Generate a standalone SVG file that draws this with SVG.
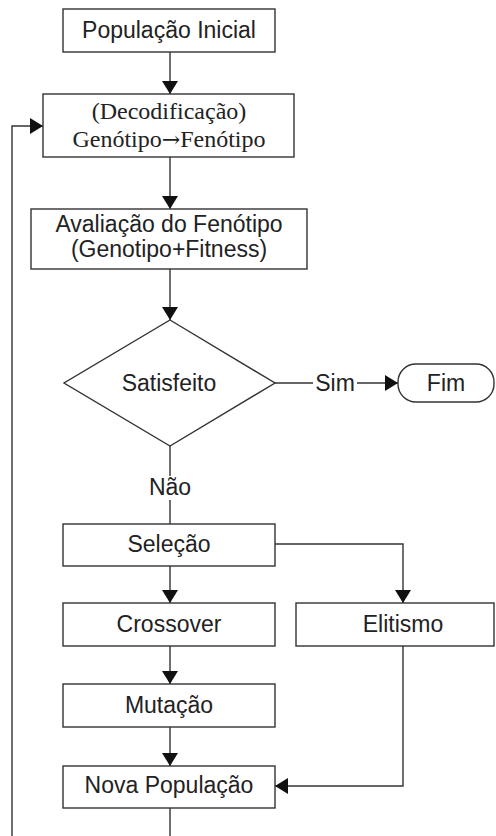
<svg xmlns="http://www.w3.org/2000/svg" width="496" height="836" viewBox="0 0 496 836">
<style>
.box{fill:#fff;stroke:#333;stroke-width:1.4}
.ln{fill:none;stroke:#333;stroke-width:1.4}
.t{font-family:"Liberation Sans",Arial,sans-serif;font-size:23px;fill:#222;text-anchor:middle}
.s{font-family:"Liberation Serif","Times New Roman",serif;font-size:24px;fill:#222;text-anchor:middle}
.arr{font-family:"DejaVu Serif","DejaVu Sans",serif;font-size:22px}
</style>
<defs>
<marker id="ah" viewBox="0 0 13 16" refX="13" refY="8" markerWidth="13" markerHeight="16" markerUnits="userSpaceOnUse" orient="auto">
<path d="M0,0 L13,8 L0,16 z" fill="#111"/>
</marker>
</defs>
<rect width="496" height="836" fill="#fff"/>
<g id="connectors">
<path class="ln" d="M170,52 V94" marker-end="url(#ah)"/>
<path class="ln" d="M170,157 V209" marker-end="url(#ah)"/>
<path class="ln" d="M170,269 V320" marker-end="url(#ah)"/>
<path class="ln" d="M275,383 H313"/>
<path class="ln" d="M357,383 H398" marker-end="url(#ah)"/>
<path class="ln" d="M170,446 V476"/>
<path class="ln" d="M170,500 V524"/>
<path class="ln" d="M170,566 V603" marker-end="url(#ah)"/>
<path class="ln" d="M275,544 H403 V603" marker-end="url(#ah)"/>
<path class="ln" d="M170,646 V684" marker-end="url(#ah)"/>
<path class="ln" d="M170,727 V766" marker-end="url(#ah)"/>
<path class="ln" d="M403,646 V786 H275" marker-end="url(#ah)"/>
<path class="ln" d="M170,808 V836"/>
<path class="ln" d="M12,836 V126 H43" marker-end="url(#ah)"/>
<text class="t" x="335" y="391">Sim</text>
<text class="t" x="170" y="495">Não</text>
</g>
<g id="pop-inicial">
<rect class="box" x="63" y="9" width="212" height="43"/>
<text class="t" x="169" y="38">População Inicial</text>
</g>
<g id="decodificacao">
<rect class="box" x="43" y="94" width="251" height="63"/>
<text class="s" x="169" y="119">(Decodificação)</text>
<text class="s" x="169" y="147">Genótipo<tspan class="arr">→</tspan>Fenótipo</text>
</g>
<g id="avaliacao">
<rect class="box" x="31" y="209" width="276" height="60"/>
<text class="t" x="169" y="232">Avaliação do Fenótipo</text>
<text class="t" x="169" y="257">(Genotipo+Fitness)</text>
</g>
<g id="satisfeito">
<polygon class="box" points="170,320 275,383 170,446 64,383"/>
<text class="t" x="169" y="391">Satisfeito</text>
</g>
<g id="fim">
<rect class="box" x="398" y="364" width="96" height="38" rx="18" ry="18"/>
<text class="t" x="446" y="391">Fim</text>
</g>
<g id="selecao">
<rect class="box" x="63" y="524" width="212" height="42"/>
<text class="t" x="169" y="552">Seleção</text>
</g>
<g id="crossover">
<rect class="box" x="63" y="603" width="212" height="43"/>
<text class="t" x="169" y="632">Crossover</text>
</g>
<g id="elitismo">
<rect class="box" x="296" y="603" width="198" height="43"/>
<text class="t" x="403" y="632">Elitismo</text>
</g>
<g id="mutacao">
<rect class="box" x="63" y="684" width="212" height="43"/>
<text class="t" x="169" y="713">Mutação</text>
</g>
<g id="nova-populacao">
<rect class="box" x="63" y="766" width="212" height="42"/>
<text class="t" x="169" y="793">Nova População</text>
</g>
</svg>
